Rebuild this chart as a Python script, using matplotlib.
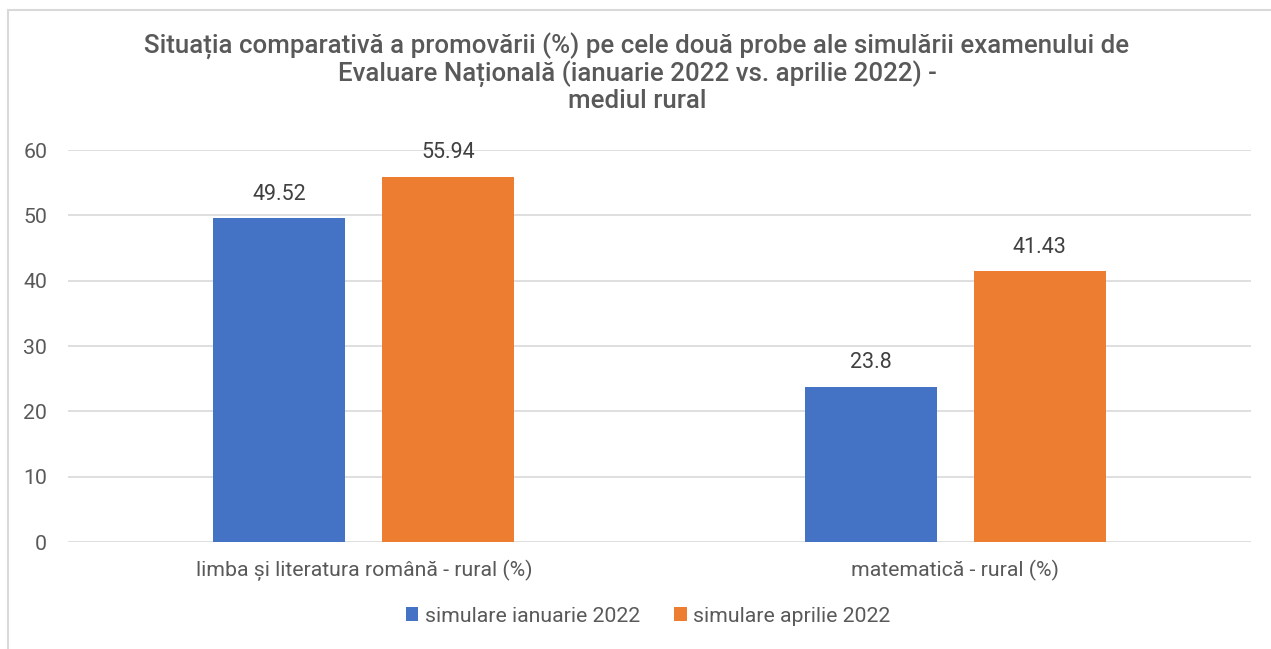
import matplotlib.pyplot as plt
import numpy as np
from matplotlib.patches import Rectangle

categories = ['limba și literatura română - rural (%)', 'matematică - rural (%)']
series_names = ['simulare ianuarie 2022', 'simulare aprilie 2022']
ianuarie = [49.52, 23.8]
aprilie = [55.94, 41.43]
value_labels = [['49.52', '23.8'], ['55.94', '41.43']]
colors = ['#4472C4', '#ED7D31']
text_color = '#595959'

plt.rcParams['font.family'] = ['Roboto', 'DejaVu Sans']

fig = plt.figure(figsize=(12.71, 6.49), dpi=100)
ax = fig.add_axes([68 / 1271, 1 - 542 / 649, (1251 - 68) / 1271, (542 - 150) / 649])

# outer chart border (only top and left visible)
fig.patches.append(Rectangle((8 / 1271, -0.1), 1.2, 1 - 10 / 649 + 0.1,
                             transform=fig.transFigure, fill=False,
                             edgecolor='#d9d9d9', linewidth=1.5))

x = np.arange(len(categories))
width = 0.223
offset = 0.143
for i, vals in enumerate([ianuarie, aprilie]):
    pos = x + (i * 2 - 1) * offset
    bars = ax.bar(pos, vals, width, color=colors[i], label=series_names[i], zorder=3)
    for b, lab in zip(bars, value_labels[i]):
        ax.text(b.get_x() + b.get_width() / 2, b.get_height() + 2.0, lab,
                ha='center', va='bottom', fontsize=15.5, color='#404040')

ax.set_xlim(-0.5, 1.5)
ax.set_ylim(0, 60)
ax.set_yticks(range(0, 61, 10))
ax.yaxis.grid(True, color='#d9d9d9', linewidth=1.2, zorder=0)
ax.set_xticks(x)
ax.set_xticklabels(categories)
ax.tick_params(axis='both', length=0, labelsize=15.3, colors=text_color)
ax.tick_params(axis='y', pad=15)
ax.tick_params(axis='x', pad=13)
for s in ax.spines.values():
    s.set_visible(False)

fig.text(637 / 1271, 1 - 73 / 649,
         'Situația comparativă a promovării (%) pe cele două probe ale simulării examenului de\n'
         'Evaluare Națională (ianuarie 2022 vs. aprilie 2022) -\nmediul rural',
         ha='center', va='center', fontsize=18.6, color=text_color, fontweight='medium',
         linespacing=1.05)

ax.legend(loc='center', bbox_to_anchor=(648 / 1271, 1 - 616 / 649), bbox_transform=fig.transFigure,
          ncol=2, frameon=False, fontsize=15.3, labelcolor=text_color,
          handlelength=0.6, handleheight=0.6, handletextpad=0.3, columnspacing=1.6)

fig.savefig('out.png', dpi=100, facecolor='white')
